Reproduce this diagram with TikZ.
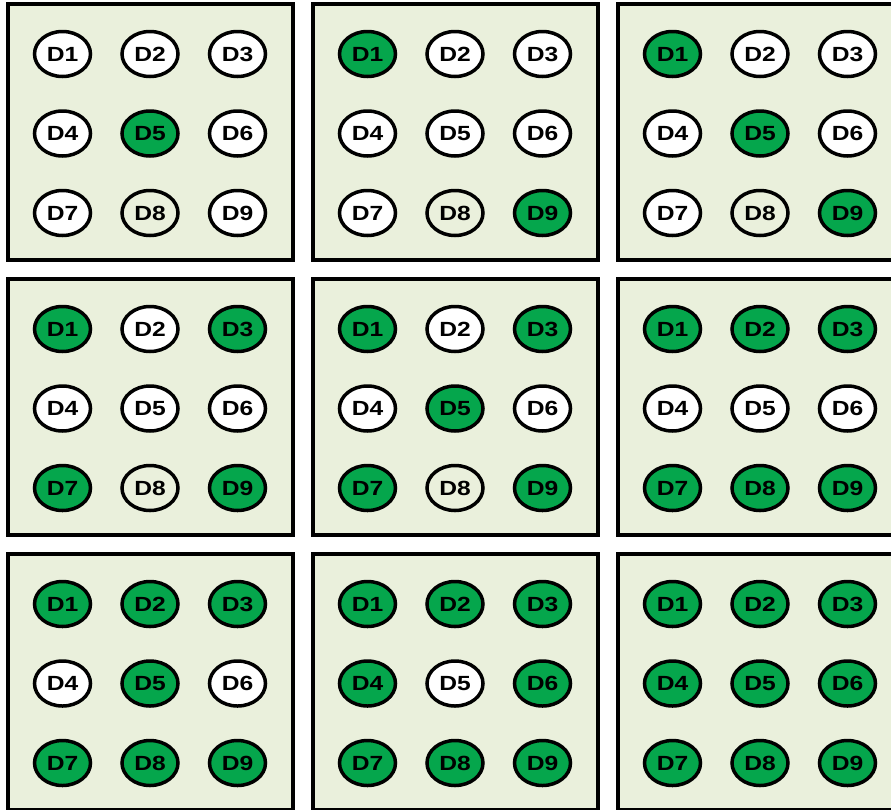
\documentclass[tikz,border=0pt]{standalone}
\usepackage{fontspec}
\setsansfont{Liberation Sans}
\newfontfamily\ledfont[FakeStretch=1.2]{Liberation Sans}
\usepackage{tikz}
\usepackage{xcolor}
\usetikzlibrary{positioning, shapes.geometric}
\definecolor{fondopanel}{HTML}{EAF0DC}
\definecolor{ledverde}{HTML}{05A64C}

\tikzset{
  panel/.style={draw=black, line width=4.5pt, fill=fondopanel},
  led/.style={ellipse, draw=black, line width=3.5pt, minimum width=56pt, minimum height=45pt,
    inner sep=0pt, font=\ledfont\bfseries\fontsize{20.5}{20.5}\selectfont},
  led1/.style={led, fill=ledverde},
  led0/.style={led, fill=white},
  led2/.style={led, fill=fondopanel}
}

\begin{document}
\begin{tikzpicture}[x=1pt, y=-1pt]
        % Marco de la figura
        \useasboundingbox (0,0) rectangle (891,809);

        % Paneles: fila/columna/estado de D1..D9 (1 = verde, 0 = blanco, 2 = sin relleno)
        \foreach \fila/\col/\estado in {
            1/1/{0,0,0,0,1,0,0,2,0},
            1/2/{1,0,0,0,0,0,0,2,1},
            1/3/{1,0,0,0,1,0,0,2,1},
            2/1/{1,0,1,0,0,0,1,2,1},
            2/2/{1,0,1,0,1,0,1,2,1},
            2/3/{1,1,1,0,0,0,1,1,1},
            3/1/{1,1,1,0,1,0,1,1,1},
            3/2/{1,1,1,1,0,1,1,1,1},
            3/3/{1,1,1,1,1,1,1,1,1}}
        {
            \pgfmathsetmacro{\ox}{8+305*(\col-1)}
            \pgfmathsetmacro{\oy}{4+275*(\fila-1)}
            \draw[panel] (\ox,\oy) rectangle ++(285,256);
            % LEDs del panel
            \foreach \s [count=\d] in \estado {
                \pgfmathtruncatemacro{\r}{floor((\d-1)/3)}
                \pgfmathtruncatemacro{\c}{mod(\d-1,3)}
                \node[led\s] (P\fila\col-D\d) at (\ox+54.5+87.5*\c, \oy+50+79.5*\r) {D\d};
            }
        }
\end{tikzpicture}
\end{document}
